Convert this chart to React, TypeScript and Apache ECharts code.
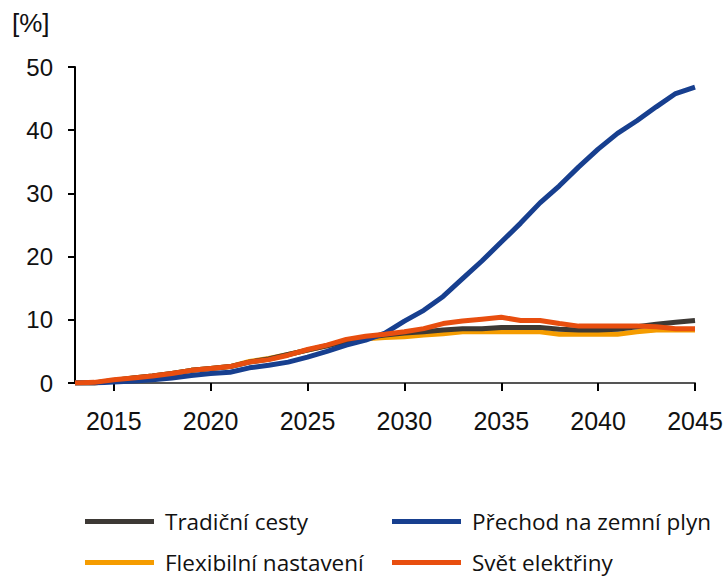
import React, { useEffect, useRef } from "react";
import * as echarts from "echarts";

const years: string[] = [];
for (let y = 2013; y <= 2045; y++) years.push(String(y));

const tradicni = [0, 0, 0.4, 0.8, 1.1, 1.5, 2.0, 2.3, 2.6, 3.3, 3.8, 4.5, 5.2, 5.9, 6.6, 7.2, 7.6, 7.9, 8.1, 8.4, 8.6, 8.6, 8.8, 8.8, 8.8, 8.5, 8.4, 8.4, 8.5, 8.9, 9.3, 9.6, 9.9];
const plyn = [0, 0, 0.15, 0.3, 0.5, 0.8, 1.2, 1.5, 1.7, 2.4, 2.8, 3.3, 4.1, 5.0, 6.0, 6.8, 7.9, 9.8, 11.5, 13.7, 16.5, 19.3, 22.3, 25.3, 28.5, 31.2, 34.2, 37.0, 39.5, 41.5, 43.7, 45.8, 46.8];
const flexibilni = [0, 0, 0.4, 0.8, 1.1, 1.5, 2.0, 2.3, 2.6, 3.4, 3.9, 4.5, 5.2, 5.9, 6.6, 7.0, 7.2, 7.3, 7.6, 7.8, 8.1, 8.1, 8.1, 8.1, 8.1, 7.7, 7.7, 7.7, 7.7, 8.1, 8.4, 8.4, 8.4];
const elektrina = [0, 0.1, 0.5, 0.8, 1.1, 1.5, 2.0, 2.3, 2.6, 3.3, 3.7, 4.4, 5.3, 6.0, 6.9, 7.4, 7.7, 8.1, 8.6, 9.4, 9.8, 10.1, 10.4, 9.9, 9.9, 9.4, 9.0, 9.0, 9.0, 9.0, 8.9, 8.6, 8.6];

const yTicks = [0, 10, 20, 30, 40, 50];

const names = ["Tradiční cesty", "Přechod na zemní plyn", "Flexibilní nastavení", "Svět elektřiny"];
const colors = ["#3d3935", "#173f8f", "#f59c00", "#e84e0f"];

export default function App() {
  const ref = useRef<HTMLDivElement>(null);
  useEffect(() => {
    if (!ref.current) return;
    const chart = echarts.init(ref.current, undefined, { renderer: "svg" });
    const mk = (name: string, data: number[], color: string, z: number) => ({
      name,
      type: "line",
      data,
      symbol: "none",
      z,
      lineStyle: { color, width: 5 },
      itemStyle: { color },
    });
    const legendText = { fontFamily: "Open Sans", fontSize: 22.5, color: "#111", padding: [0, 0, 0, 6] };
    const legendAt = (name: string, left: number, top: number) => ({
      data: [name],
      orient: "horizontal",
      left,
      top,
      itemWidth: 69,
      itemHeight: 5,
      icon: "rect",
      padding: 0,
      textStyle: legendText,
    });
    chart.setOption({
      animation: false,
      textStyle: { fontFamily: "Liberation Sans" },
      grid: { left: 75, right: 32, top: 67, bottom: 195, containLabel: false },
      graphic: [
        {
          type: "text",
          x: 12,
          y: 23,
          style: {
            text: "[%]",
            fontSize: 26,
            fontFamily: "Liberation Sans",
            fill: "#111",
            verticalAlign: "middle",
          },
        },
      ],
      legend: [
        legendAt(names[0], 85, 510),
        legendAt(names[1], 392, 510),
        legendAt(names[2], 85, 551),
        legendAt(names[3], 392, 551),
      ],
      xAxis: {
        type: "category",
        data: years,
        boundaryGap: false,
        axisLine: { lineStyle: { color: "#555", width: 2 } },
        axisTick: {
          interval: (i: number, v: string) => Number(v) % 5 === 0,
          length: 8,
          lineStyle: { color: "#000", width: 2 },
        },
        axisLabel: {
          interval: (i: number, v: string) => Number(v) % 5 === 0,
          fontSize: 25,
          color: "#111",
          margin: 25,
        },
        splitLine: { show: false },
      },
      yAxis: {
        type: "value",
        min: yTicks[0],
        max: yTicks[yTicks.length - 1],
        interval: 10,
        axisLine: { show: true, lineStyle: { color: "#000", width: 2 } },
        axisTick: { show: true, length: 7, lineStyle: { color: "#000", width: 2 } },
        axisLabel: { fontSize: 24, color: "#111", margin: 22 },
        splitLine: { show: false },
      },
      series: [
        mk(names[2], flexibilni, colors[2], 2),
        mk(names[0], tradicni, colors[0], 3),
        mk(names[1], plyn, colors[1], 4),
        mk(names[3], elektrina, colors[3], 5),
      ],
    });
    return () => chart.dispose();
  }, []);
  return <div ref={ref} style={{ position: "fixed", left: 0, top: 0, width: 727, height: 578, background: "#fff" }} />;
}
